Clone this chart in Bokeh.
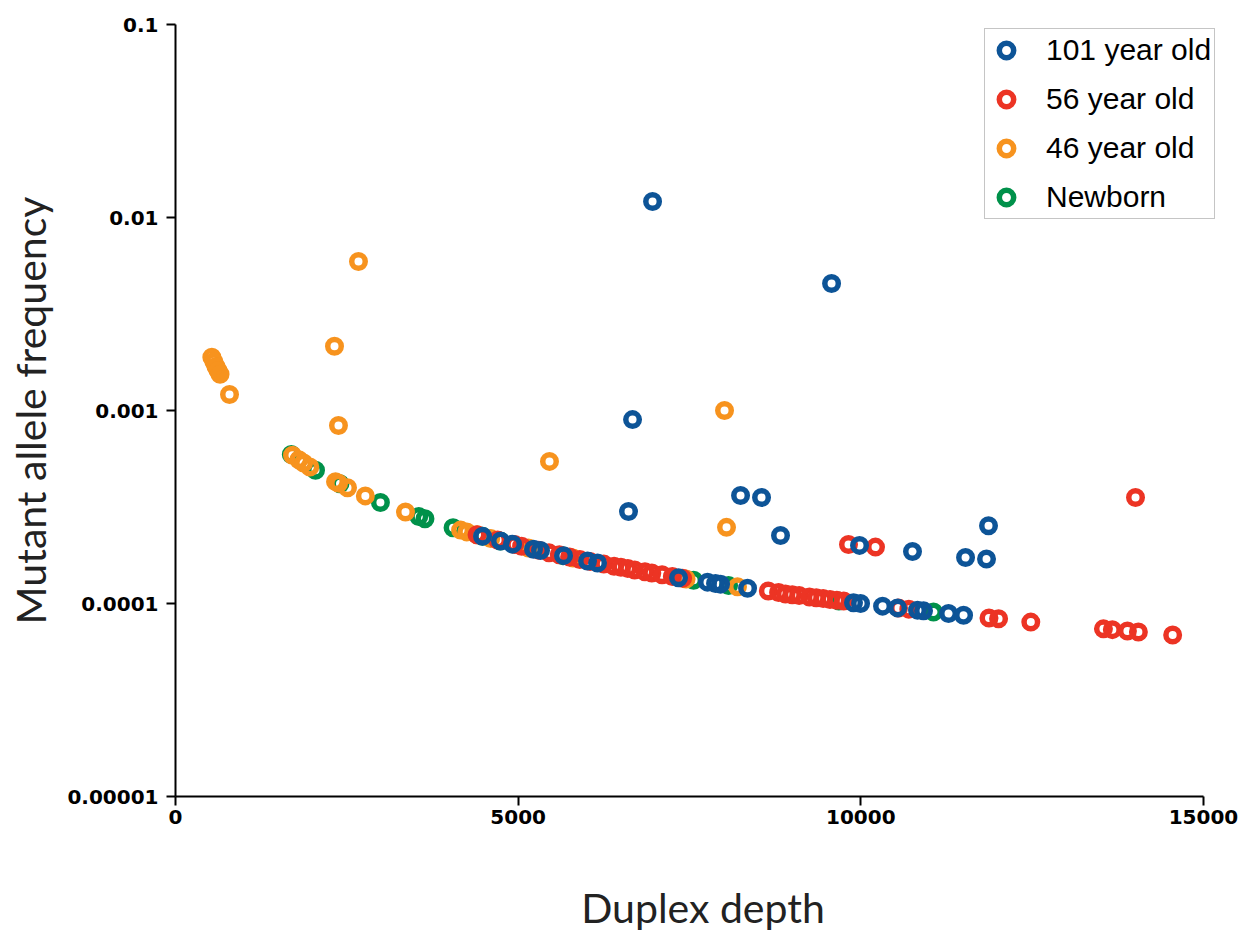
from bokeh.plotting import figure
from bokeh.models import FixedTicker, CustomJSTickFormatter, Legend, LegendItem, Range1d
from bokeh.embed import file_html
from bokeh.resources import INLINE

# ---- data ----
series_names = ["101 year old", "56 year old", "46 year old", "Newborn"]

depth_101 = [4480, 4742, 4918, 5224, 5326, 5662, 6012, 6158, 7340, 7763, 7880, 7953, 8347,
             9893, 9996, 10317, 10536, 10827, 10915, 11280, 11499,
             6961, 9573, 6669, 6610, 8245, 8551, 8828, 9981, 10754, 11528, 11834, 11863]
freq_101 = [0.000223, 0.000211, 0.000203, 0.000191, 0.000188, 0.000177, 0.000166, 0.000162,
            0.000136, 0.000129, 0.000127, 0.000126, 0.00012,
            0.000101, 0.0001, 0.0000969, 0.0000949, 0.0000924, 0.0000916, 0.0000887, 0.000087,
            0.0121, 0.00455, 0.000897, 0.0003, 0.000363, 0.000354, 0.000225, 0.0002,
            0.000186, 0.000173, 0.00017, 0.000253]

depth_56 = [4400, 4700, 4950, 5050, 5300, 5450, 5600, 5750, 5900, 6050, 6250, 6400, 6500,
            6600, 6700, 6850, 6950, 7100, 7250, 7400, 8650, 8800, 8900, 9000, 9100, 9250,
            9350, 9450, 9550, 9650, 9750, 10550, 10700, 11870, 12010, 12480, 13540, 13670,
            13890, 14050, 14550, 9820, 10214, 14008]
freq_56 = [0.000227, 0.000213, 0.000202, 0.000198, 0.000189, 0.000183, 0.000179, 0.000174,
           0.000169, 0.000165, 0.00016, 0.000156, 0.000154, 0.000152, 0.000149, 0.000146,
           0.000144, 0.000141, 0.000138, 0.000135, 0.000116, 0.000114, 0.000112, 0.000111,
           0.00011, 0.000108, 0.000107, 0.000106, 0.000105, 0.000104, 0.000103, 0.0000948,
           0.0000935, 0.0000842, 0.0000833, 0.0000801, 0.0000739, 0.0000732, 0.000072,
           0.0000712, 0.0000687, 0.000202, 0.000196, 0.000354]

depth_46 = [530, 560, 590, 620, 650, 788, 1707, 1800, 1870, 1960, 2335, 2380, 2510, 2770,
            3356, 4160, 4250, 4400, 4600, 5150, 5800, 7450, 8200,
            2670, 2320, 2378, 5457, 8011, 8040]
freq_46 = [0.00189, 0.00179, 0.00169, 0.00161, 0.00154, 0.00121, 0.000586, 0.000556,
           0.000535, 0.00051, 0.000428, 0.00042, 0.000398, 0.000361, 0.000298, 0.00024,
           0.000235, 0.000227, 0.000217, 0.000194, 0.000172, 0.000134, 0.000122,
           0.00591, 0.00215, 0.000836, 0.000545, 0.001, 0.000248]

depth_nb = [1690, 2043, 2400, 2990, 3550, 3640, 4050, 4480, 4740, 5650, 7560, 8070, 9680, 11060]
freq_nb = [0.000592, 0.00049, 0.000417, 0.000334, 0.000282, 0.000275, 0.000247, 0.000223,
           0.000211, 0.000177, 0.000132, 0.000124, 0.000103, 0.0000904]

x_ticks = [0, 5000, 10000, 15000]
y_ticks = [0.00001, 0.0001, 0.001, 0.01, 0.1]

colors = {"101 year old": "#0d5497", "56 year old": "#ec3424",
          "46 year old": "#f7931e", "Newborn": "#00914a"}

# frame: left 175 .. right 1230 ; the x axis line stops at 15000 (pixel ~1203)
X_END = 15000 * (1230 - 175) / (1203 - 175)

p = figure(width=1245, height=937,
           x_range=Range1d(0, X_END), y_range=Range1d(0.00001, 0.1),
           y_axis_type="log", output_backend="svg", toolbar_location=None,
           min_border_left=175, min_border_right=15, min_border_top=24,
           min_border_bottom=141)
p.grid.visible = False
p.outline_line_color = None
p.background_fill_color = "white"
p.border_fill_color = "white"

for ax in (p.xaxis[0], p.yaxis[0]):
    ax.axis_line_width = 2
    ax.axis_line_color = "black"
    ax.major_tick_line_width = 2
    ax.major_tick_line_color = "black"
    ax.major_tick_out = 9
    ax.major_tick_in = 0
    ax.minor_tick_line_color = None
    ax.major_label_text_font = "DejaVu Sans"
    ax.major_label_text_font_style = "bold"
    ax.major_label_text_font_size = "20px"
    ax.major_label_text_color = "black"
    ax.axis_label_text_font = "Lato"
    ax.axis_label_text_font_style = "normal"
    ax.axis_label_text_font_size = "41px"
    ax.axis_label_text_color = "#222222"

p.xaxis.bounds = (0, 15000)
p.xaxis.ticker = FixedTicker(ticks=x_ticks)
p.yaxis.ticker = FixedTicker(ticks=y_ticks)
p.yaxis.formatter = CustomJSTickFormatter(code="return tick.toString();")
p.xaxis.major_label_standoff = 4
p.yaxis.major_label_standoff = 8
p.xaxis.axis_label = "Duplex depth"
p.yaxis.axis_label = "Mutant allele frequency"
p.xaxis.axis_label_standoff = 56
p.yaxis.axis_label_standoff = 9

data = {"101 year old": (depth_101, freq_101), "56 year old": (depth_56, freq_56),
        "46 year old": (depth_46, freq_46), "Newborn": (depth_nb, freq_nb)}

renderers = {}
for name in ["Newborn", "46 year old", "56 year old", "101 year old"]:
    xs, ys = data[name]
    renderers[name] = p.scatter(xs, ys, marker="circle", size=13.5, line_width=5.5,
                                line_color=colors[name], fill_alpha=0)

legend = Legend(items=[LegendItem(label=n, renderers=[renderers[n]]) for n in series_names],
                location=(809, 577))
legend.label_text_font = "Liberation Sans"
legend.label_text_font_size = "30px"
legend.label_text_color = "black"
legend.glyph_width = 36
legend.glyph_height = 36
legend.label_height = 36
legend.spacing = 13
legend.padding = 3
legend.margin = 0
legend.label_standoff = 22
legend.border_line_color = "#8c8c8c"
legend.border_line_width = 1.5
legend.background_fill_color = "white"
legend.background_fill_alpha = 1
p.add_layout(legend, "center")

open("out.html", "w").write(file_html(p, INLINE))
